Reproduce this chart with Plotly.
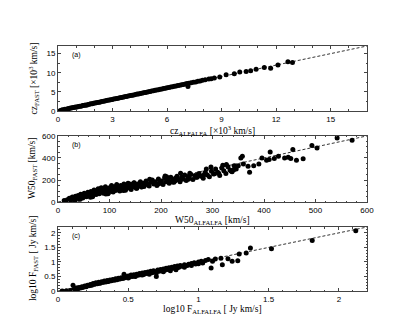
import plotly.graph_objects as go

# Panel (a): cz [x10^3 km/s]
cz_alfalfa = [0.12,0.18,0.25,0.31,0.38,0.44,0.52,0.58,0.65,0.71,0.78,0.85,0.92,0.98,1.05,1.12,1.2,1.27,1.35,1.42,
              1.5,1.57,1.65,1.73,1.8,1.88,1.95,2.03,2.1,2.18,2.26,2.33,2.41,2.5,2.58,2.66,2.74,2.82,2.9,2.98,
              3.06,3.15,3.23,3.31,3.4,3.48,3.57,3.65,3.74,3.82,3.91,4.0,4.08,4.17,4.26,4.35,4.43,4.52,4.61,4.7,
              4.79,4.88,4.97,5.06,5.15,5.25,5.34,5.43,5.53,5.62,5.72,5.81,5.91,6.0,6.1,6.2,6.3,6.4,6.5,6.6,
              6.7,6.8,6.9,7.0,7.1,7.15,7.2,7.32,7.45,7.58,7.7,7.82,7.95,8.1,8.3,8.43,8.6,8.9,9.25,9.7,
              10.0,10.35,10.6,10.9,11.35,11.7,12.1,12.65,12.9]
cz_fast = [0.05,0.2,0.3,0.25,0.45,0.4,0.6,0.55,0.7,0.75,0.8,0.9,0.95,1.05,1.0,1.15,1.25,1.2,1.4,1.45,
           1.55,1.5,1.7,1.75,1.85,1.9,2.0,2.05,2.15,2.2,2.3,2.35,2.45,2.55,2.6,2.7,2.8,2.85,2.95,3.0,
           3.1,3.2,3.25,3.35,3.45,3.5,3.6,3.7,3.75,3.85,3.95,4.05,4.1,4.2,4.3,4.4,4.45,4.55,4.65,4.75,
           4.85,4.9,5.0,5.1,5.2,5.3,5.4,5.45,5.55,5.7,5.75,5.85,5.95,6.05,6.15,6.25,6.35,6.45,6.55,6.65,
           6.75,6.85,6.95,7.05,7.15,6.4,7.25,7.35,7.5,7.6,7.75,7.85,8.0,8.15,8.35,8.4,8.65,8.9,9.5,9.75,
           10.2,10.35,10.5,10.9,11.4,11.2,12.0,12.9,12.7]

# Panel (b): W50 [km/s]
w50_alfalfa = [12,18,22,25,28,31,34,36,39,41,44,46,48,51,53,55,58,60,62,64,66,68,70,72,74,76,78,80,82,84,86,88,90,92,94,96,98,
               100,102,104,106,108,110,112,114,116,118,120,122,124,126,128,130,132,134,136,138,140,142,144,146,148,150,152,155,
               158,160,163,166,168,171,174,177,180,183,186,189,192,195,198,201,204,207,210,213,216,219,222,225,228,231,234,237,
               240,243,246,249,252,255,258,262,266,270,274,278,282,286,290,294,298,302,306,310,314,318,322,326,330,334,338,342,
               346,350,355,358,360,369,372,380,390,396,405,410,412,420,428,440,447,452,456,463,476,493,503,542,571,
               27,43,57,67,79,93,107,117,127,139,153,167,181,197,211,227,241,256,268,284,297,312,327,341,
               33,49,63,83,97,113,131,147,162,178,193,208,223,238,253,272,288,304,320,336]
w50_fast = [15,22,35,18,45,30,52,40,60,28,70,55,38,80,62,48,90,70,55,95,78,60,110,85,68,100,120,75,95,130,105,80,115,140,98,120,85,
            130,110,150,95,125,140,105,160,118,135,100,150,128,112,165,135,120,145,170,128,150,115,160,138,175,145,125,165,
            150,185,140,170,155,190,160,145,180,200,165,185,150,210,175,190,160,220,185,200,170,225,195,180,215,235,200,185,
            225,210,245,195,230,215,250,205,240,225,260,235,215,270,245,230,280,255,300,270,240,310,285,260,320,290,275,330,
            300,330,400,415,345,324,270,330,345,400,380,385,455,395,415,400,406,395,476,379,394,512,491,582,561,
            40,25,72,48,88,74,92,140,105,165,125,142,195,168,230,190,210,262,225,250,318,262,340,290,
            12,66,44,102,76,138,108,172,136,208,160,236,182,262,206,248,300,258,335,282]

# Panel (c): log10 F [Jy km/s]
logf_alfalfa = [0.03,0.06,0.09,0.107,0.11,0.12,0.13,0.14,0.15,0.16,0.17,0.18,0.19,0.2,0.21,0.22,0.23,0.24,0.25,0.26,0.27,0.28,
                0.29,0.3,0.31,0.32,0.33,0.34,0.35,0.36,0.37,0.38,0.39,0.4,0.41,0.42,0.43,0.44,0.45,0.46,0.47,0.47,0.48,0.49,
                0.5,0.51,0.52,0.53,0.54,0.55,0.56,0.57,0.58,0.59,0.6,0.61,0.62,0.63,0.64,0.65,0.66,0.67,0.68,0.69,0.7,0.71,
                0.72,0.73,0.74,0.75,0.76,0.77,0.78,0.79,0.8,0.81,0.82,0.83,0.84,0.85,0.86,0.87,0.88,0.9,0.92,0.93,0.95,0.97,
                0.98,1.0,1.02,1.03,1.05,1.07,1.09,1.1,1.12,1.16,1.17,1.21,1.24,1.28,1.29,1.34,1.37,1.52,1.81,2.12,
                0.14,0.17,0.2,0.23,0.26,0.29,0.32,0.35,0.38,0.41,0.44,0.5,0.55,0.6,0.65,0.7,0.75,0.8,0.85,0.9,0.95,1.0]
logf_fast = [0.0,0.01,0.02,0.2,0.05,0.08,0.1,0.06,0.12,0.1,0.15,0.13,0.17,0.15,0.2,0.18,0.22,0.2,0.26,0.23,0.28,0.25,
             0.3,0.27,0.32,0.3,0.34,0.31,0.36,0.33,0.38,0.35,0.4,0.37,0.42,0.39,0.44,0.41,0.46,0.43,0.58,0.45,0.5,0.47,
             0.52,0.48,0.55,0.5,0.56,0.52,0.58,0.54,0.6,0.56,0.62,0.57,0.64,0.6,0.65,0.62,0.68,0.63,0.7,0.66,0.5,0.72,
             0.68,0.74,0.7,0.76,0.71,0.78,0.74,0.8,0.76,0.82,0.78,0.84,0.73,0.86,0.82,0.88,0.85,0.9,0.88,0.92,0.95,0.97,
             0.93,1.0,1.02,0.96,1.05,1.08,0.79,1.02,1.1,1.13,0.9,1.11,1.02,1.04,1.27,1.31,1.48,1.45,1.74,2.07,
             0.1,0.12,0.16,0.2,0.24,0.27,0.3,0.33,0.36,0.39,0.42,0.45,0.5,0.55,0.58,0.62,0.66,0.7,0.8,0.82,0.88,0.94]

panels = [
    ("x", "y", cz_alfalfa, cz_fast, 17, "cz<sub>ALFALFA</sub> [×10<sup>3</sup> km/s]", "cz<sub>FAST</sub> [×10<sup>3</sup> km/s]", "(a)", 3, 1, 5, 2.5),
    ("x2", "y2", w50_alfalfa, w50_fast, 600, "W50<sub>ALFALFA</sub> [km/s]", "W50<sub>FAST</sub> [km/s]", "(b)", 100, 20, 200, 50),
    ("x3", "y3", logf_alfalfa, logf_fast, 2.2, "log10 F<sub>ALFALFA</sub> [ Jy km/s]", "log10 F<sub>FAST</sub> [ Jy km/s]", "(c)", 0.5, 0.1, 0.5, 0.1),
]
domains = [(0.735, 1.0), (0.363, 0.633), (0.0, 0.261)]

fig = go.Figure()
layout = dict(width=399, height=319, margin=dict(l=50, r=40, t=38, b=36),
              paper_bgcolor="white", plot_bgcolor="white", showlegend=False)
serif = "Liberation Serif"
sans = "Liberation Sans"
annotations = []
for i, (xa, ya, xs, ys, rng, xt, yt, lab, xd, xm, yd, ym) in enumerate(panels):
    fig.add_trace(go.Scatter(x=[0, rng], y=[0, rng], mode="lines", xaxis=xa, yaxis=ya,
                             line=dict(color="black", width=0.8, dash="3px,2px")))
    fig.add_trace(go.Scatter(x=xs, y=ys, mode="markers", xaxis=xa, yaxis=ya,
                             marker=dict(color="black", size=5, line=dict(width=0))))
    sfx = "" if i == 0 else str(i + 1)
    common = dict(showgrid=False, zeroline=False, showline=True, linecolor="#444", linewidth=1,
                  mirror="allticks", ticks="inside", ticklen=3, tickcolor="#444", tickwidth=0.8,
                  tickfont=dict(family=sans, size=8, color="black"))
    layout["xaxis" + sfx] = dict(common, domain=[0, 1], range=[0, rng], anchor="y" + sfx, dtick=xd, tick0=0,
                                 minor=dict(dtick=xm, ticks="inside", ticklen=1.5, tickcolor="#444"))
    layout["yaxis" + sfx] = dict(common, domain=list(domains[i]), range=[0, rng], anchor="x" + sfx, dtick=yd, tick0=0,
                                 minor=dict(dtick=ym, ticks="inside", ticklen=1.5, tickcolor="#444"))
    xr = "x" + sfx + " domain"
    yr = "y" + sfx + " domain"
    annotations.append(dict(text=lab, xref=xr, yref=yr, x=0.04, y=0.95,
                            xanchor="left", yanchor="top", showarrow=False, font=dict(family=sans, size=7, color="black")))
    annotations.append(dict(text=xt, xref=xr, yref=yr, x=0.5, y=0, xanchor="center", yanchor="top", yshift=-11,
                            showarrow=False, font=dict(family=serif, size=9.5, color="black")))
    annotations.append(dict(text=yt, xref=xr, yref=yr, x=0, y=0.5, xanchor="center", yanchor="middle", xshift=-25,
                            textangle=-90, showarrow=False, font=dict(family=serif, size=9.5, color="black")))
layout["annotations"] = annotations
fig.update_layout(**layout)
fig.write_html("out.html")
